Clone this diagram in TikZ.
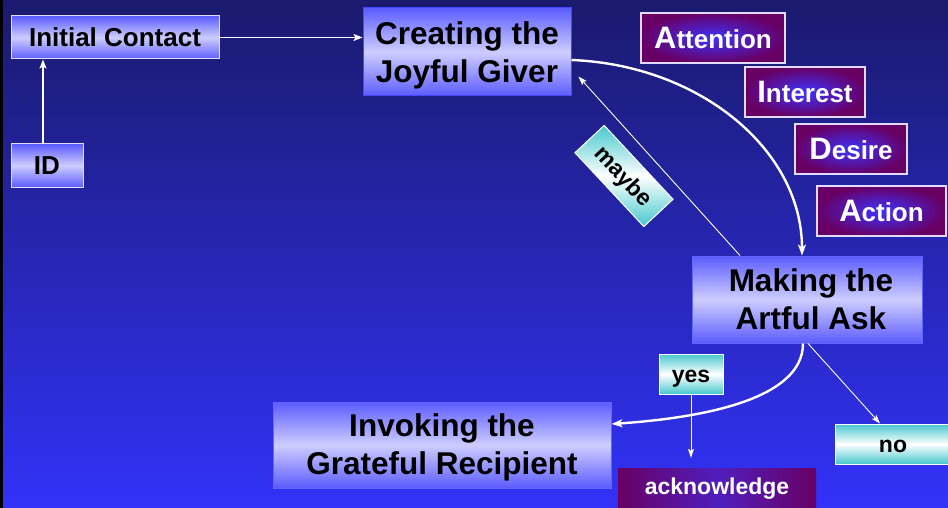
\documentclass[tikz,border=0pt]{standalone}
\usepackage{fontspec}
\setmainfont{Liberation Sans}
\usetikzlibrary{arrows.meta,calc}
\definecolor{bgtop}{RGB}{26,26,110}
\definecolor{bgbot}{RGB}{50,50,248}
\definecolor{boxedge}{RGB}{92,92,255}
\definecolor{boxmid}{RGB}{205,205,255}
\definecolor{purp}{RGB}{104,0,100}
\definecolor{purpin}{RGB}{62,50,255}
\definecolor{tealc}{RGB}{70,200,205}
\definecolor{lavline}{RGB}{225,220,255}
\newcommand{\firstl}[1]{{\fontsize{31}{31}\selectfont #1}}
\newcommand{\tp}{\rule{0pt}{29.5pt}}
\begin{document}
\begin{tikzpicture}[x=1pt,y=-1pt,
  bigbox/.style={top color=boxedge,bottom color=boxedge,middle color=boxmid,
    inner sep=0pt,align=center,text=black,
    font=\bfseries\fontsize{31.5}{38}\selectfont},
  smallbox/.style={bigbox,draw=lavline,line width=1pt,font=\bfseries\fontsize{26}{30}\selectfont},
  aida/.style={inner color=purpin,outer color=purp,draw=lavline,line width=1.2pt,
    inner sep=0pt,text=white,font=\bfseries\fontsize{26}{30}\selectfont},
  answer/.style={top color=tealc,bottom color=tealc,middle color=white,draw=white,
    line width=1pt,inner sep=0pt,text=black,text height=16pt,text depth=0pt,
    font=\bfseries\fontsize{23}{28}\selectfont},
  thin/.style={draw=white,line width=0.9pt,-{Stealth[length=9pt,width=6pt,inset=2pt]}},
  medium/.style={draw=white,line width=1.7pt,-{Stealth[length=9pt,width=7pt,inset=2pt]}},
  thick/.style={draw=white,line width=2.4pt,-{Stealth[length=11pt,width=8pt,inset=3pt]}}]
\shade[top color=bgtop,bottom color=bgbot] (0,0) rectangle (948,508);
\fill[black] (0,0) rectangle (3,508);
\useasboundingbox (0,0) rectangle (948,508);

\node[smallbox,minimum width=208pt,minimum height=43pt] (ic) at (115,37.5) {Initial Contact};
\node[smallbox,minimum width=72pt,minimum height=43pt] (id) at (47,165.5) {ID};
\node[bigbox,draw={rgb,255:red,70;green,70;blue,255},line width=1pt,minimum width=208pt,minimum height=88pt] (cg) at (467,52) {\tp Creating the\\Joyful Giver};
\node[bigbox,draw={rgb,255:red,100;green,100;blue,255},line width=1pt,minimum width=230pt,minimum height=87pt] (mk) at (807,299.5) {\hspace*{8pt}Making the\\\hspace*{8pt}Artful Ask};
\node[bigbox,draw={rgb,255:red,100;green,100;blue,255},line width=1pt,minimum width=338pt,minimum height=86pt] (iv) at (442,445) {\rule{0pt}{27.5pt}Invoking the\\Grateful Recipient};

\node[aida,minimum width=144pt,minimum height=50pt] (at) at (713,38) {\firstl{A}ttention};
\node[aida,minimum width=120pt,minimum height=50pt] (in) at (805,92) {\firstl{I}nterest};
\node[aida,minimum width=112pt,minimum height=50pt] (de) at (851,149) {\firstl{D}esire};
\node[aida,minimum width=129pt,minimum height=50pt] (ac) at (881.5,211) {\firstl{A}ction};

\node[answer,rotate=-47,minimum width=101pt,minimum height=40pt] (mb) at (624,176) {maybe};
\node[answer,minimum width=64pt,minimum height=40pt] (yes) at (691,374) {yes};
\node[answer,minimum width=116pt,minimum height=40pt] (no) at (893,444) {no};
\node[left color=purp,right color=purp,middle color={rgb,255:red,80;green,30;blue,190},inner sep=0pt,
  text=white,font=\bfseries\fontsize{23}{28}\selectfont,minimum width=198pt,minimum height=42pt] (ack) at (717,489) {acknowledge};

\draw[medium] ([xshift=-4pt]id.north) -- ([xshift=-4pt]id.north |- ic.south);
\draw[medium] (ic.east) -- (ic.east -| cg.west);
\draw[thick] ([yshift=-8pt]cg.east) .. controls (700,65) and (802,150) .. (mk.north -| 802,0);
\draw[thin] ($(mk.north west)!0.21!(mk.north east)$) -- ([shift={(7pt,20pt)}]cg.south east);
\draw[thick] (mk.south -| 803,0) .. controls (803,400) and (700,418) .. ([yshift=21pt]iv.east);
\draw[thin] ([xshift=1pt]mk.south) -- (no.north -| 880,0);
\draw[thin] (yes.south) -- ([yshift=10pt]yes.south |- ack.north);
\end{tikzpicture}
\end{document}
